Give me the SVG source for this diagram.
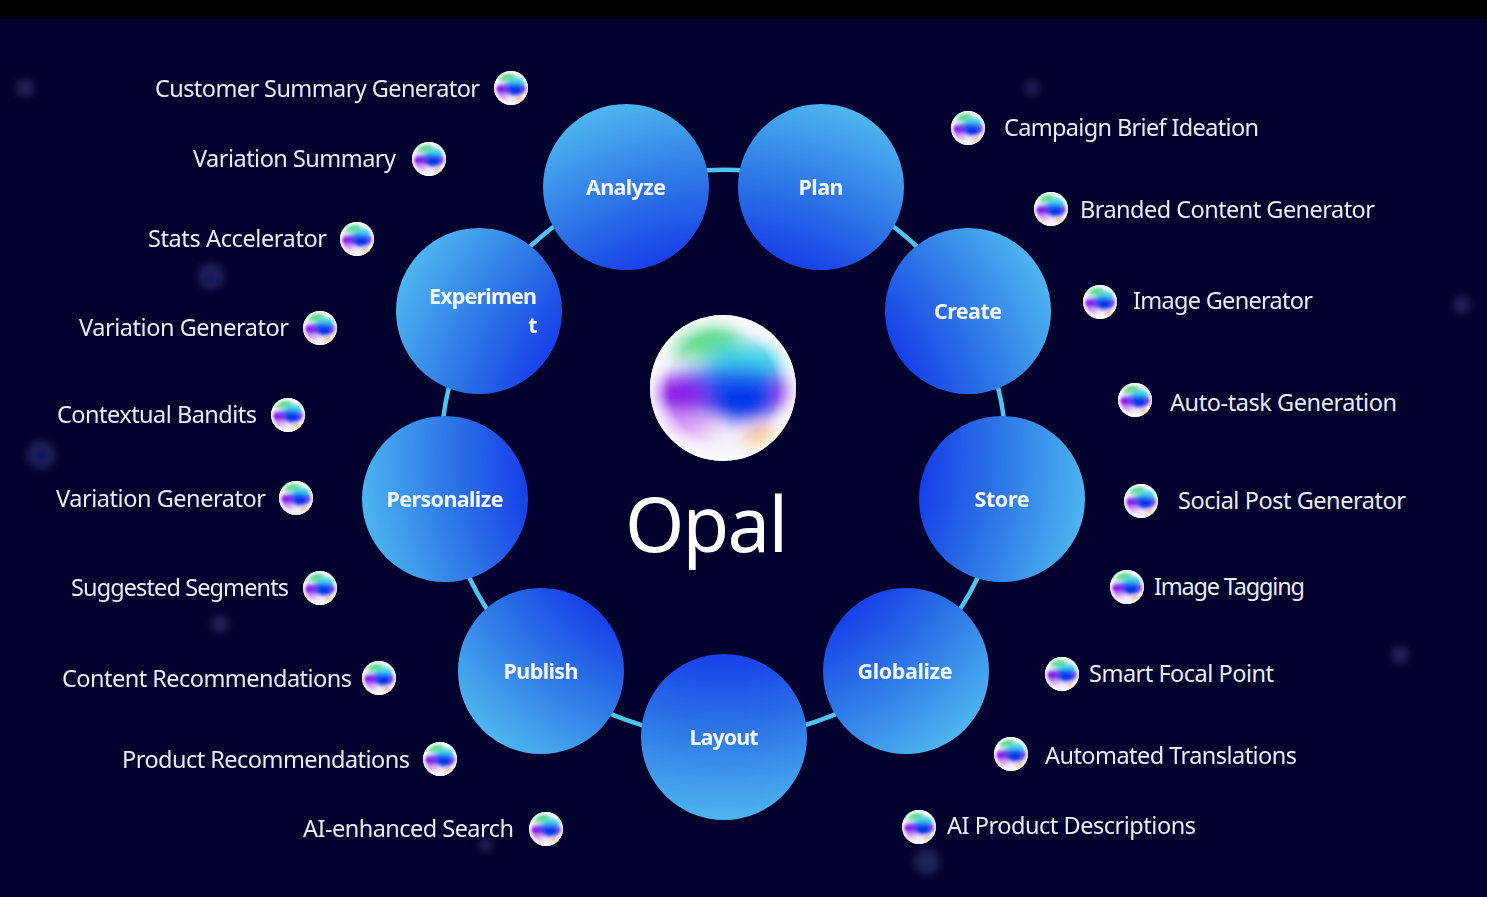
<svg xmlns="http://www.w3.org/2000/svg" width="1487" height="897" viewBox="0 0 1487 897">
<style>
.lbl{font-family:"Noto Sans","Open Sans","Liberation Sans",sans-serif;font-size:23.5px;fill:#e9ecfa}
.nt{font-family:"Noto Sans","Open Sans","Liberation Sans",sans-serif;font-size:21.5px;font-weight:700;fill:#f6f8ff;text-anchor:middle}
.node{fill:url(#nodeGrad)}
.conn{fill:none;stroke:#4ec4f2;stroke-width:4.5}
.dust{fill:#5a5a96;filter:url(#dustBlur)}
.dustc{fill:#2a3aa8;filter:url(#dustBlur)}
</style>
<defs>
<radialGradient id="nodeGrad" gradientUnits="userSpaceOnUse" cx="724" cy="454" r="370">
<stop offset="0.5" stop-color="#1335ea"/>
<stop offset="0.72" stop-color="#2a6fe6"/>
<stop offset="1" stop-color="#4fb8f0"/>
</radialGradient>
<filter id="blend" filterUnits="userSpaceOnUse" x="-40" y="-40" width="180" height="180"><feGaussianBlur stdDeviation="6.5"/></filter>
<filter id="dustBlur" x="-60%" y="-60%" width="220%" height="220%"><feGaussianBlur stdDeviation="4"/></filter>
<clipPath id="orbClip"><circle cx="50" cy="50" r="50"/></clipPath>
<radialGradient id="orbEdge" cx="50%" cy="50%" r="50%">
<stop offset="0.74" stop-color="#fff" stop-opacity="0"/>
<stop offset="1" stop-color="#fff" stop-opacity="0.85"/>
</radialGradient>
<symbol id="orb" viewBox="0 0 100 100">
<g clip-path="url(#orbClip)">
<rect width="100" height="100" fill="#f4f0fb"/>
<g filter="url(#blend)">
<ellipse cx="36" cy="17" rx="26" ry="13" fill="#62dd8e"/>
<ellipse cx="68" cy="30" rx="28" ry="10" fill="#40d4e6"/>
<ellipse cx="55" cy="52" rx="50" ry="16" fill="#1f5cf0"/>
<ellipse cx="20" cy="55" rx="20" ry="13" fill="#8a16e8"/>
<ellipse cx="93" cy="54" rx="9" ry="10" fill="#9a40ea"/>
<ellipse cx="63" cy="60" rx="24" ry="12" fill="#0230e8"/>
<ellipse cx="22" cy="76" rx="22" ry="8" fill="#dc9cf4"/>
<ellipse cx="80" cy="86" rx="13" ry="8" fill="#f2a23c"/>
</g>
<rect width="100" height="100" fill="url(#orbEdge)"/>
</g>
</symbol>
</defs>
<rect width="1487" height="897" fill="#02012d"/>
<rect width="1487" height="19" fill="#000"/>
<g id="dust" opacity="0.4">
<circle class="dust" cx="25" cy="88" r="9"/>
<circle class="dust" cx="211" cy="276" r="13"/>
<circle class="dustc" cx="211" cy="279" r="7"/>
<circle class="dust" cx="41" cy="455" r="14"/>
<circle class="dustc" cx="41" cy="456" r="8"/>
<circle class="dust" cx="220" cy="624" r="9"/>
<circle class="dust" cx="1032" cy="88" r="8"/>
<circle class="dust" cx="1462" cy="305" r="9"/>
<circle class="dust" cx="1400" cy="655" r="9"/>
<circle class="dust" cx="927" cy="862" r="13"/>
<circle class="dust" cx="486" cy="845" r="7"/>
</g>
<g id="connectors">
<path class="conn" d="M626 187A284 284 0 0 1 821 187"/>
<path class="conn" d="M821 187A284 284 0 0 1 968 311"/>
<path class="conn" d="M968 311A284 284 0 0 1 1002 499"/>
<path class="conn" d="M1002 499A284 284 0 0 1 906 671"/>
<path class="conn" d="M906 671A284 284 0 0 1 724 737"/>
<path class="conn" d="M724 737A284 284 0 0 1 541 671"/>
<path class="conn" d="M541 671A284 284 0 0 1 445 499"/>
<path class="conn" d="M445 499A284 284 0 0 1 479 311"/>
<path class="conn" d="M479 311A284 284 0 0 1 626 187"/>
</g>
<g id="node-analyze"><circle class="node" cx="626" cy="187" r="83"/><text class="nt" x="626" y="195" textLength="80">Analyze</text></g>
<g id="node-plan"><circle class="node" cx="821" cy="187" r="83"/><text class="nt" x="821" y="195" textLength="45">Plan</text></g>
<g id="node-create"><circle class="node" cx="968" cy="311" r="83"/><text class="nt" x="968" y="319" textLength="68">Create</text></g>
<g id="node-store"><circle class="node" cx="1002" cy="499" r="83"/><text class="nt" x="1002" y="507" textLength="55">Store</text></g>
<g id="node-globalize"><circle class="node" cx="906" cy="671" r="83"/><text class="nt" x="905" y="679" textLength="95">Globalize</text></g>
<g id="node-layout"><circle class="node" cx="724" cy="737" r="83"/><text class="nt" x="724" y="745" textLength="69">Layout</text></g>
<g id="node-publish"><circle class="node" cx="541" cy="671" r="83"/><text class="nt" x="541" y="679" textLength="75">Publish</text></g>
<g id="node-personalize"><circle class="node" cx="445" cy="499" r="83"/><text class="nt" x="445" y="507" textLength="117">Personalize</text></g>
<g id="node-experiment"><circle class="node" cx="479" cy="311" r="83"/><text class="nt" x="483" y="304" textLength="108">Experimen</text><text class="nt" x="533" y="333">t</text></g>
<g id="center"><use href="#orb" x="650" y="315" width="146" height="146"/>
<text x="625" y="552" font-family="Noto Sans,Open Sans,Liberation Sans,sans-serif" font-size="76" fill="#fff" textLength="163">Opal</text></g>
<g id="items-left">
<g id="i1"><text class="lbl" x="155" y="97" textLength="325">Customer Summary Generator</text><use href="#orb" x="494" y="71" width="34" height="34"/></g>
<g id="i2"><text class="lbl" x="193" y="167" textLength="203">Variation Summary</text><use href="#orb" x="412" y="142" width="34" height="34"/></g>
<g id="i3"><text class="lbl" x="148" y="247" textLength="179">Stats Accelerator</text><use href="#orb" x="340" y="222" width="34" height="34"/></g>
<g id="i4"><text class="lbl" x="79" y="336" textLength="210">Variation Generator</text><use href="#orb" x="303" y="311" width="34" height="34"/></g>
<g id="i5"><text class="lbl" x="57" y="423" textLength="200">Contextual Bandits</text><use href="#orb" x="271" y="398" width="34" height="34"/></g>
<g id="i6"><text class="lbl" x="56" y="507" textLength="210">Variation Generator</text><use href="#orb" x="279" y="481" width="34" height="34"/></g>
<g id="i7"><text class="lbl" x="71" y="596" textLength="218">Suggested Segments</text><use href="#orb" x="303" y="571" width="34" height="34"/></g>
<g id="i8"><text class="lbl" x="62" y="687" textLength="290">Content Recommendations</text><use href="#orb" x="362" y="661" width="34" height="34"/></g>
<g id="i9"><text class="lbl" x="122" y="768" textLength="288">Product Recommendations</text><use href="#orb" x="423" y="742" width="34" height="34"/></g>
<g id="i10"><text class="lbl" x="303" y="837" textLength="211">AI-enhanced Search</text><use href="#orb" x="529" y="812" width="34" height="34"/></g>
</g>
<g id="items-right">
<g id="r1"><use href="#orb" x="951" y="111" width="34" height="34"/><text class="lbl" x="1004" y="136" textLength="255">Campaign Brief Ideation</text></g>
<g id="r2"><use href="#orb" x="1034" y="192" width="34" height="34"/><text class="lbl" x="1080" y="218" textLength="295">Branded Content Generator</text></g>
<g id="r3"><use href="#orb" x="1083" y="285" width="34" height="34"/><text class="lbl" x="1133" y="309" textLength="180">Image Generator</text></g>
<g id="r4"><use href="#orb" x="1118" y="383" width="34" height="34"/><text class="lbl" x="1170" y="411" textLength="227">Auto-task Generation</text></g>
<g id="r5"><use href="#orb" x="1124" y="484" width="34" height="34"/><text class="lbl" x="1178" y="509" textLength="228">Social Post Generator</text></g>
<g id="r6"><use href="#orb" x="1110" y="570" width="34" height="34"/><text class="lbl" x="1154" y="595" textLength="151">Image Tagging</text></g>
<g id="r7"><use href="#orb" x="1045" y="657" width="34" height="34"/><text class="lbl" x="1089" y="682" textLength="185">Smart Focal Point</text></g>
<g id="r8"><use href="#orb" x="994" y="737" width="34" height="34"/><text class="lbl" x="1045" y="764" textLength="252">Automated Translations</text></g>
<g id="r9"><use href="#orb" x="902" y="810" width="34" height="34"/><text class="lbl" x="947" y="834" textLength="249">AI Product Descriptions</text></g>
</g>
</svg>
